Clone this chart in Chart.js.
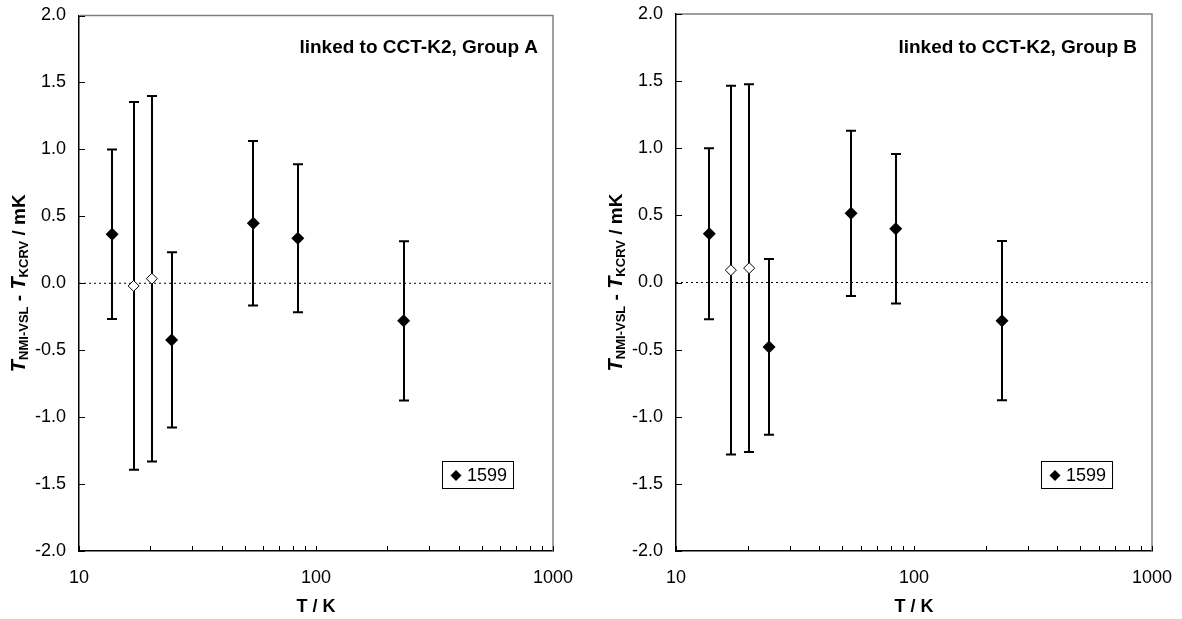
<!DOCTYPE html>
<html><head><meta charset="utf-8">
<script src="https://cdn.jsdelivr.net/npm/chart.js@4.4.1/dist/chart.umd.min.js"></script>
<style>
html,body{margin:0;padding:0;background:#fff;}
#wrap{position:relative;width:1182px;height:619px;overflow:hidden;}
.panel{position:absolute;top:0;width:591px;height:619px;}
canvas{display:block;}
</style>
</head><body>
<div id="wrap">
  <div class="panel" style="left:0"><canvas id="cA" width="591" height="619"></canvas></div>
  <div class="panel" style="left:591px"><canvas id="cB" width="591" height="619"></canvas></div>
</div>
<script>
// ---- data ----
const temperatures = [13.8, 17.0, 20.3, 24.6, 54.4, 83.8, 234.3];       // T / K
const pointKind    = ['closed','open','open','closed','closed','closed','closed'];
const diffGroupA   = [0.366, -0.020, 0.034, -0.423, 0.448, 0.336, -0.281]; // mK
const uncGroupA    = [0.633, 1.373, 1.365, 0.655, 0.615, 0.552, 0.595];
const diffGroupB   = [0.363, 0.092, 0.107, -0.480, 0.515, 0.400, -0.284];
const uncGroupB    = [0.637, 1.373, 1.370, 0.655, 0.616, 0.557, 0.594];
const yTickValues  = [-2.0, -1.5, -1.0, -0.5, 0.0, 0.5, 1.0, 1.5, 2.0];
const xTickValues  = [10,20,30,40,50,60,70,80,90,100,200,300,400,500,600,700,800,900,1000];
const xTickLabels  = [10, 100, 1000];
const seriesLabel  = '1599';
const panelTitles  = ['linked to CCT-K2, Group A', 'linked to CCT-K2, Group B'];

Chart.defaults.font.family = "'Liberation Sans', Arial, sans-serif";
Chart.defaults.color = '#000';

const FONT = "'Liberation Sans', Arial, sans-serif";

function makePanel(canvasId, diffs, uncs, title, geom) {
  const H = 619, W = 591;
  const closedPts = [], openPts = [];
  temperatures.forEach((t, i) => {
    const p = {x: t, y: diffs[i]};
    (pointKind[i] === 'open' ? openPts : closedPts).push(p);
  });

  const panelPlugin = {
    id: 'panelDecor',
    beforeDatasetsDraw(chart) {
      const {ctx, scales: {x, y}} = chart;
      ctx.save();
      ctx.strokeStyle = '#000';
      ctx.lineWidth = 2;
      diffs.forEach((v, i) => {
        const px = Math.round(x.getPixelForValue(temperatures[i]));
        const top = y.getPixelForValue(v + uncs[i]);
        const bot = y.getPixelForValue(v - uncs[i]);
        ctx.beginPath();
        ctx.moveTo(px, top); ctx.lineTo(px, bot);
        ctx.moveTo(px - 5, top); ctx.lineTo(px + 5, top);
        ctx.moveTo(px - 5, bot); ctx.lineTo(px + 5, bot);
        ctx.stroke();
      });
      ctx.restore();
    },
    afterDraw(chart) {
      const {ctx, chartArea: ca, scales: {x, y}} = chart;
      ctx.save();
      // top and right frame
      ctx.strokeStyle = '#808080';
      ctx.lineWidth = 1.5;
      ctx.beginPath();
      ctx.moveTo(ca.left, ca.top); ctx.lineTo(ca.right, ca.top); ctx.lineTo(ca.right, ca.bottom);
      ctx.stroke();
      // inward ticks
      ctx.strokeStyle = '#000';
      ctx.lineWidth = 1;
      ctx.beginPath();
      y.ticks.forEach(t => {
        const py = Math.round(y.getPixelForValue(t.value)) + 0.5;
        ctx.moveTo(ca.left, py); ctx.lineTo(ca.left + 6, py);
      });
      x.ticks.forEach(t => {
        const px = Math.round(x.getPixelForValue(t.value)) + 0.5;
        ctx.moveTo(px, ca.bottom); ctx.lineTo(px, ca.bottom - 5);
      });
      ctx.stroke();
      // panel title
      ctx.fillStyle = '#000';
      ctx.font = 'bold 19px ' + FONT;
      ctx.textAlign = 'right';
      ctx.textBaseline = 'middle';
      ctx.fillText(title, ca.right - 15, 48);
      // legend
      const bx = ca.right - 111, by = 461, bw = 71, bh = 27;
      ctx.strokeStyle = '#000';
      ctx.lineWidth = 1;
      ctx.fillStyle = '#fff';
      ctx.fillRect(bx, by, bw, bh);
      ctx.strokeRect(bx + 0.5, by + 0.5, bw, bh);
      const dcx = bx + 14, dcy = by + 14.5, r = 5.5;
      ctx.fillStyle = '#000';
      ctx.beginPath();
      ctx.moveTo(dcx, dcy - r); ctx.lineTo(dcx + r, dcy); ctx.lineTo(dcx, dcy + r); ctx.lineTo(dcx - r, dcy);
      ctx.closePath(); ctx.fill();
      ctx.font = '18px ' + FONT;
      ctx.textAlign = 'left';
      ctx.textBaseline = 'middle';
      ctx.fillText(chart.data.datasets[1].label, bx + 25, dcy + 1);
      // y-axis title (rotated, rich text)
      const segs = [
        {t: 'T', f: 'italic bold 20px ' + FONT, dy: 0},
        {t: 'NMI-VSL', f: 'bold 13px ' + FONT, dy: 3},
        {t: ' - ', f: 'bold 19px ' + FONT, dy: 0},
        {t: 'T', f: 'italic bold 20px ' + FONT, dy: 0},
        {t: 'KCRV', f: 'bold 13px ' + FONT, dy: 3},
        {t: ' / mK', f: 'bold 19px ' + FONT, dy: 0}
      ];
      let total = 0;
      segs.forEach(s => { ctx.font = s.f; s.w = ctx.measureText(s.t).width; total += s.w; });
      ctx.translate(ca.left - 54, (ca.top + ca.bottom) / 2);
      ctx.rotate(-Math.PI / 2);
      ctx.textAlign = 'left';
      ctx.textBaseline = 'alphabetic';
      let cx = -total / 2;
      segs.forEach(s => { ctx.font = s.f; ctx.fillText(s.t, cx, s.dy); cx += s.w; });
      ctx.restore();
    }
  };

  return new Chart(document.getElementById(canvasId), {
    type: 'scatter',
    data: {
      datasets: [
        {label: 'zero', type: 'line', data: [{x: 10, y: 0}, {x: 1000, y: 0}],
         borderColor: '#000', borderWidth: 1, borderDash: [2, 3], pointRadius: 0, order: 5},
        {label: seriesLabel, data: closedPts, pointStyle: 'rectRot', pointRadius: 6.5,
         backgroundColor: '#000', borderColor: '#000', borderWidth: 0, order: 1},
        {label: seriesLabel + ' (open)', data: openPts, pointStyle: 'rectRot', pointRadius: 5.5,
         backgroundColor: '#fff', borderColor: '#000', borderWidth: 1, order: 1}
      ]
    },
    options: {
      responsive: false,
      devicePixelRatio: 1,
      animation: false,
      events: [],
      layout: {padding: {left: 0, top: geom.T, right: W - geom.R, bottom: 0}},
      plugins: {legend: {display: false}, tooltip: {enabled: false}},
      scales: {
        x: {
          type: 'logarithmic', position: 'bottom', min: 10, max: 1000,
          afterBuildTicks: s => { s.ticks = xTickValues.map(v => ({value: v})); },
          afterFit: s => { s.height = H - geom.B; s.paddingLeft = 0; s.paddingRight = 0; },
          ticks: {autoSkip: false, maxRotation: 0, minRotation: 0, padding: 16,
                  font: {size: 18}, color: '#000',
                  callback: v => xTickLabels.includes(v) ? String(v) : ''},
          grid: {display: false, drawTicks: false},
          border: {display: true, color: '#000', width: 1.5},
          title: {display: true, text: 'T / K', color: '#000',
                  font: {size: 18, weight: 'bold'}, padding: {top: 0, bottom: 1}}
        },
        y: {
          type: 'linear', position: 'left', min: -2, max: 2,
          afterBuildTicks: s => { s.ticks = yTickValues.map(v => ({value: v})); },
          afterFit: s => { s.width = geom.L; s.paddingTop = 0; s.paddingBottom = 0; },
          ticks: {padding: 13, font: {size: 18}, color: '#000', callback: v => v.toFixed(1)},
          grid: {display: false, drawTicks: false},
          border: {display: true, color: '#000', width: 1.5}
        }
      }
    },
    plugins: [panelPlugin]
  });
}

makePanel('cA', diffGroupA, uncGroupA, panelTitles[0], {L: 79, R: 553, T: 15.5, B: 551});
makePanel('cB', diffGroupB, uncGroupB, panelTitles[1], {L: 85, R: 561, T: 14, B: 551});
</script>
</body></html>
